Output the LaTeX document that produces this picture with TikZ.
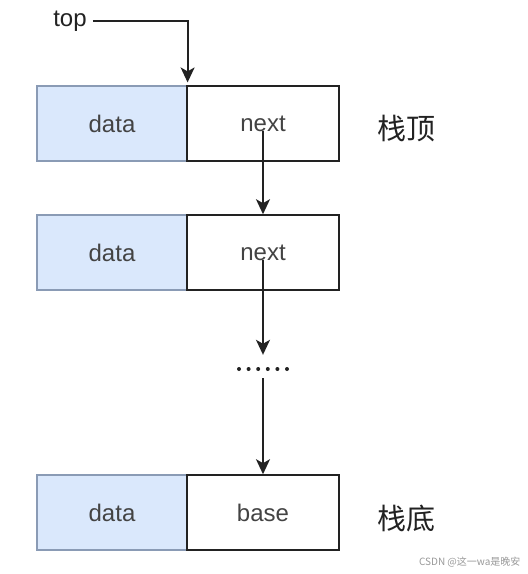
\documentclass[tikz,border=0pt]{standalone}
\usepackage{fontspec}
\setmainfont{Liberation Sans}
\newfontfamily\cjk{Noto Sans CJK SC}
\usetikzlibrary{arrows.meta}
\definecolor{datafill}{HTML}{DAE8FC}
\definecolor{datadraw}{HTML}{8A9BB5}
\definecolor{ink}{HTML}{222222}
\begin{document}
\begin{tikzpicture}[x=1pt,y=-1pt,
  databox/.style={draw=datadraw,line width=1.2pt,fill=datafill,minimum width=150pt,minimum height=75pt,inner sep=0pt,font=\fontsize{24}{26}\selectfont,text=ink!85},
  ptrbox/.style={draw=ink,line width=1.6pt,fill=white,minimum width=152pt,minimum height=75pt,inner sep=0pt,font=\fontsize{24}{26}\selectfont,text=ink!85},
  lbl/.style={font=\cjk\fontsize{29}{32}\selectfont,text=ink},
  link/.style={draw=ink,line width=1.8pt,-{Stealth[length=15pt,width=14pt,inset=4pt]}}]
\useasboundingbox (0,0) rectangle (528,574);
\fill[white] (0,0) rectangle (528,574);
% row 1
\node[databox] (data1) at (112,123.5) {data};
\node[ptrbox]  (next1) at (263,123.5) {next};
\node[lbl] (lt) at (406,129) {栈顶};
% row 2
\node[databox] (data2) at (112,252.5) {data};
\node[ptrbox]  (next2) at (263,252.5) {next};
% row 3
\node[databox] (data3) at (112,512.5) {data};
\node[ptrbox]  (base)  at (263,512.5) {base};
\node[lbl] (lb) at (406,518) {栈底};
% top pointer
\node[font=\fontsize{24}{26}\selectfont,text=ink,inner sep=2pt] (top) at (70,21) {top};
\draw[link,shorten >=3pt,shorten <=4pt] (top.east |- 0,21) -| (data1.north east);
% dots
\node[minimum width=52pt,minimum height=10pt,inner sep=0pt] (dots) at (263,369) {};
\foreach \i in {0,...,5} \fill[ink] (239+\i*9.6,369) circle (2pt);
% links
\draw[link] (next1.center |- 0,131) -- (next2.north);
\draw[link] (next2.center |- 0,260) -- ([yshift=9pt]dots.north);
\draw[link] ([yshift=-4pt]dots.south) -- (base.north);
% watermark
\node[font=\cjk\fontsize{10}{12}\selectfont,text=black!40,anchor=east] (wm) at (524,562) {CSDN @这一wa是晚安};
\end{tikzpicture}
\end{document}
